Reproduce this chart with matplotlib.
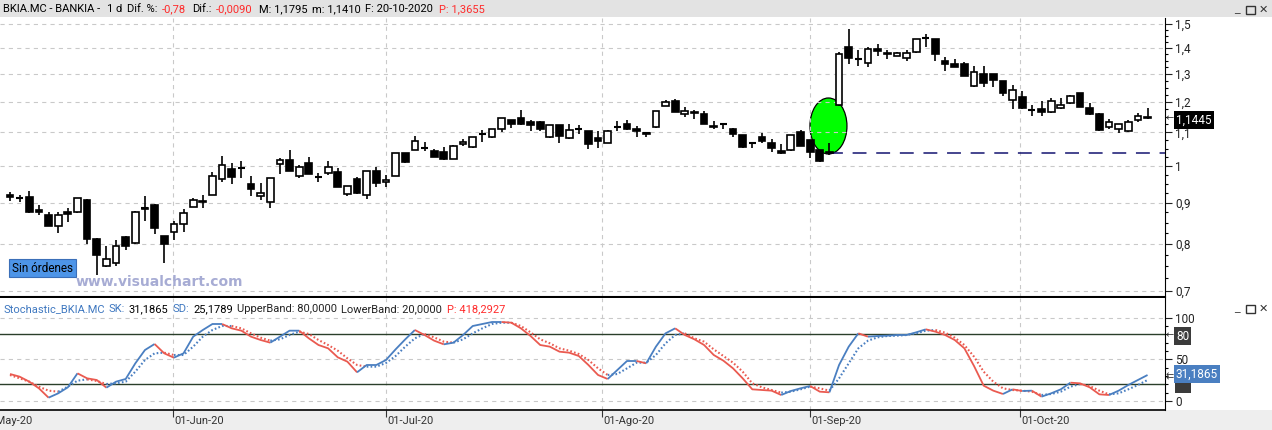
import matplotlib
matplotlib.use('Agg')
import matplotlib.pyplot as plt
import numpy as np
from matplotlib.patches import Ellipse, Rectangle
import matplotlib.transforms as mtransforms
from matplotlib.ticker import FixedLocator, NullFormatter, FixedFormatter

plt.rcParams['font.family'] = ['Roboto', 'DejaVu Sans']
plt.rcParams['lines.scale_dashes'] = False

# ---------------- data ----------------
opens = [0.921, 0.911, 0.914, 0.882, 0.869, 0.843, 0.877, 0.875, 0.907, 0.812,
         0.752, 0.757, 0.816, 0.802, 0.885, 0.894, 0.818, 0.827, 0.846, 0.890,
         0.904, 0.921, 0.962, 0.991, 0.993, 0.949, 0.917, 0.901, 1.004, 1.016,
         0.971, 1.007, 0.967, 0.980, 0.983, 0.922, 0.962, 0.920, 0.985, 0.954,
         0.971, 1.036, 1.046, 1.053, 1.044, 1.039, 1.019, 1.063, 1.056, 1.094,
         1.086, 1.109, 1.139, 1.147, 1.133, 1.132, 1.086, 1.122, 1.081, 1.109,
         1.104, 1.081, 1.068, 1.118, 1.128, 1.110, 1.098, 1.118, 1.186, 1.203,
         1.158, 1.167, 1.158, 1.121, 1.126, 1.109, 1.091, 1.068, 1.084, 1.066,
         1.043, 1.045, 1.100, 1.076, 1.046, 1.040, 1.189, 1.402, 1.355, 1.339,
         1.394, 1.379, 1.369, 1.359, 1.384, 1.439, 1.436, 1.348, 1.337, 1.337,
         1.256, 1.299, 1.299, 1.273, 1.206, 1.216, 1.172, 1.175, 1.165, 1.178,
         1.195, 1.229, 1.180, 1.159, 1.116, 1.109, 1.105, 1.138, 1.150]
highs = [0.927, 0.920, 0.930, 0.894, 0.877, 0.876, 0.885, 0.912, 0.909, 0.813,
         0.795, 0.809, 0.818, 0.878, 0.917, 0.896, 0.818, 0.854, 0.883, 0.911,
         0.920, 0.981, 1.028, 1.007, 1.014, 0.971, 0.951, 0.966, 1.021, 1.046,
         1.002, 1.026, 0.980, 1.014, 0.993, 0.945, 0.967, 0.986, 0.995, 0.974,
         1.037, 1.037, 1.088, 1.069, 1.048, 1.054, 1.060, 1.079, 1.085, 1.107,
         1.111, 1.146, 1.140, 1.172, 1.139, 1.136, 1.123, 1.123, 1.128, 1.122,
         1.105, 1.104, 1.106, 1.137, 1.139, 1.120, 1.102, 1.170, 1.206, 1.210,
         1.181, 1.172, 1.169, 1.136, 1.127, 1.115, 1.092, 1.069, 1.097, 1.079,
         1.063, 1.092, 1.107, 1.077, 1.046, 1.066, 1.383, 1.477, 1.392, 1.405,
         1.415, 1.392, 1.385, 1.392, 1.437, 1.457, 1.437, 1.362, 1.355, 1.344,
         1.331, 1.331, 1.300, 1.274, 1.259, 1.238, 1.189, 1.203, 1.214, 1.214,
         1.223, 1.230, 1.195, 1.162, 1.143, 1.126, 1.139, 1.161, 1.1795]
lows = [0.903, 0.902, 0.874, 0.869, 0.842, 0.826, 0.851, 0.874, 0.800, 0.731,
        0.748, 0.750, 0.785, 0.800, 0.855, 0.822, 0.758, 0.810, 0.828, 0.889,
        0.885, 0.920, 0.955, 0.948, 0.965, 0.917, 0.907, 0.885, 0.977, 0.986,
        0.965, 0.976, 0.955, 0.974, 0.940, 0.917, 0.923, 0.909, 0.940, 0.942,
        0.970, 1.009, 1.045, 1.044, 1.025, 1.016, 1.018, 1.059, 1.053, 1.069,
        1.083, 1.100, 1.113, 1.123, 1.105, 1.105, 1.083, 1.066, 1.080, 1.094,
        1.049, 1.051, 1.066, 1.105, 1.108, 1.086, 1.086, 1.115, 1.185, 1.166,
        1.150, 1.141, 1.127, 1.110, 1.109, 1.086, 1.051, 1.051, 1.068, 1.041,
        1.035, 1.044, 1.058, 1.023, 1.012, 1.031, 1.186, 1.336, 1.331, 1.327,
        1.369, 1.357, 1.368, 1.349, 1.381, 1.402, 1.348, 1.309, 1.324, 1.292,
        1.253, 1.253, 1.253, 1.221, 1.176, 1.177, 1.153, 1.153, 1.164, 1.177,
        1.194, 1.183, 1.157, 1.105, 1.110, 1.097, 1.100, 1.132, 1.141]
closes = [0.914, 0.911, 0.875, 0.877, 0.843, 0.869, 0.871, 0.911, 0.811, 0.776,
          0.766, 0.795, 0.796, 0.876, 0.883, 0.838, 0.799, 0.846, 0.873, 0.908,
          0.901, 0.971, 1.002, 0.967, 0.993, 0.935, 0.926, 0.965, 1.016, 0.986,
          0.995, 0.976, 0.967, 0.997, 0.942, 0.944, 0.924, 0.985, 0.953, 0.960,
          1.036, 1.012, 1.073, 1.053, 1.026, 1.019, 1.059, 1.069, 1.084, 1.094,
          1.110, 1.145, 1.128, 1.128, 1.122, 1.110, 1.122, 1.089, 1.107, 1.109,
          1.063, 1.074, 1.105, 1.118, 1.110, 1.104, 1.096, 1.169, 1.198, 1.167,
          1.169, 1.161, 1.128, 1.118, 1.126, 1.096, 1.056, 1.066, 1.074, 1.053,
          1.036, 1.091, 1.059, 1.041, 1.014, 1.036, 1.375, 1.359, 1.355, 1.394,
          1.389, 1.374, 1.379, 1.379, 1.436, 1.439, 1.374, 1.336, 1.327, 1.293,
          1.305, 1.265, 1.279, 1.231, 1.241, 1.178, 1.172, 1.167, 1.203, 1.189,
          1.220, 1.184, 1.159, 1.107, 1.132, 1.125, 1.132, 1.1535, 1.1445]

sk = [32.4, 29.2, 23.2, 15.2, 4.0, 9.2, 16.4, 33.2, 27.2, 25.2,
      16.0, 23.2, 26.4, 45.2, 61.2, 68.4, 57.2, 52.0, 57.2, 77.2,
      85.2, 92.4, 92.4, 87.2, 84.4, 77.2, 73.2, 70.0, 77.2, 84.4,
      84.4, 75.2, 67.2, 63.2, 52.4, 47.2, 34.4, 43.2, 43.2, 49.2,
      62.0, 74.0, 85.2, 79.2, 72.4, 68.0, 70.0, 79.2, 90.0, 92.4,
      94.8, 94.8, 94.0, 87.2, 78.0, 67.2, 65.2, 59.2, 58.0, 54.0,
      43.2, 31.2, 26.4, 37.2, 48.0, 48.0, 45.2, 65.2, 81.2, 87.2,
      79.2, 74.0, 67.2, 55.2, 48.4, 39.2, 27.2, 14.0, 13.2, 12.4,
      7.2, 12.0, 15.2, 18.0, 11.2, 10.4, 43.2, 65.2, 81.2, 77.2,
      78.0, 78.4, 79.2, 79.2, 82.4, 86.0, 83.2, 79.2, 73.2, 63.2,
      42.0, 18.4, 12.4, 8.4, 14.0, 12.0, 12.4, 5.2, 9.2, 14.0,
      22.0, 21.2, 16.4, 8.0, 7.2, 12.4, 19.2, 25.2, 31.19]
sd = [31.2, 27.2, 23.2, 17.2, 12.4, 11.2, 17.2, 24.4, 26.0, 24.0,
      20.4, 21.2, 23.2, 35.2, 49.2, 57.2, 58.0, 55.2, 55.2, 65.2,
      77.2, 85.2, 90.0, 90.0, 87.2, 81.2, 76.0, 72.4, 74.0, 79.2,
      83.2, 80.4, 73.2, 67.2, 60.4, 51.2, 43.2, 41.2, 41.2, 45.6,
      54.0, 65.2, 75.2, 80.4, 76.4, 71.2, 70.0, 74.0, 81.2, 87.2,
      92.4, 94.0, 94.0, 90.0, 82.4, 74.0, 69.2, 63.2, 60.4, 56.4,
      49.2, 39.2, 31.2, 32.4, 39.2, 46.0, 46.0, 55.2, 69.2, 79.2,
      81.2, 75.2, 71.2, 62.0, 54.0, 46.0, 35.2, 21.2, 16.4, 13.2,
      10.0, 11.2, 14.0, 17.2, 15.2, 12.4, 27.2, 45.2, 63.2, 72.4,
      76.4, 78.0, 78.4, 79.2, 81.2, 84.4, 85.2, 82.0, 76.0, 67.2,
      53.2, 35.2, 23.2, 15.2, 13.2, 12.4, 11.2, 7.2, 8.4, 11.2,
      17.2, 20.4, 18.0, 12.4, 8.0, 9.2, 14.0, 19.2, 25.18]

month_labels = ['01-May-20', '01-Jun-20', '01-Jul-20', '01-Ago-20', '01-Sep-20', '01-Oct-20']
month_pos = [-3.2, 16.9, 38.97, 61.4, 83.0, 104.8]

price_ticks = [0.7, 0.8, 0.9, 1.0, 1.1, 1.2, 1.3, 1.4, 1.5]
price_tick_labels = ['0,7', '0,8', '0,9', '1', '1,1', '1,2', '1,3', '1,4', '1,5']
support_level = 1.036
last_price = 1.1445

O = np.array(opens); Hh = np.array(highs); L = np.array(lows); C = np.array(closes)
n = len(O)
x = np.arange(n)

# ---------------- figure ----------------
W, H = 1272, 430
fig = plt.figure(figsize=(W / 100, H / 100), dpi=100)
fig.patch.set_facecolor('white')
renderer = fig.canvas.get_renderer()

def fx(px): return px / W
def fy(py): return 1 - py / H

fig.add_artist(Rectangle((0, fy(17)), 1, 17 / H, transform=fig.transFigure,
                         facecolor='#e3e3e3', edgecolor='none', zorder=0))
fig.add_artist(Rectangle((0, 0), 1, 20 / H, transform=fig.transFigure,
                         facecolor='#eeeeee', edgecolor='none', zorder=0))

XL = (-1.037, 119.81)
grid_c = '#c9c9c9'
grid_ls = (0, (3, 3))

# ---- price panel ----
ax = fig.add_axes([0, fy(297), fx(1165), (297 - 18) / H])
ax.set_facecolor('white')
ax.set_yscale('log')
ax.set_ylim(0.6874, 1.5245)
ax.set_xlim(*XL)
for s in ['left', 'top']:
    ax.spines[s].set_visible(False)
ax.spines['right'].set_color('black')
ax.spines['bottom'].set_color('black')
ax.spines['bottom'].set_linewidth(1.5)
ax.yaxis.tick_right()
ax.yaxis.set_major_locator(FixedLocator(price_ticks))
ax.yaxis.set_major_formatter(FixedFormatter(price_tick_labels))
ax.yaxis.set_minor_locator(FixedLocator(list(np.arange(0.7, 1.52, 0.025))))
ax.yaxis.set_minor_formatter(NullFormatter())
ax.tick_params(axis='y', which='major', length=5, width=0.8, pad=2.5,
               labelsize=8.5, colors='#222222')
ax.tick_params(axis='y', which='minor', length=2.5, width=0.8)
ax.set_xticks([])
for t in price_ticks:
    ax.axhline(t, color=grid_c, lw=0.8, ls=grid_ls, zorder=1)
for p in month_pos:
    ax.axvline(p, color=grid_c, lw=0.8, ls=grid_ls, zorder=1)

# green ellipse highlight (size in inches around a data anchor)
trans = fig.dpi_scale_trans + mtransforms.ScaledTranslation(84.9, 1.12, ax.transData)
ell = Ellipse((0, 0), 0.37, 0.56, transform=trans, facecolor='#00ff00',
              edgecolor='black', lw=0.9, zorder=0.8)
ax.add_patch(ell)

# candles
up = C >= O
ax.vlines(x, L, Hh, color='black', lw=1.2, zorder=3)
bottoms = np.minimum(O, C)
heights = np.abs(C - O)
ax.bar(x, heights, bottom=bottoms, width=0.7,
       color=np.where(up, 'white', 'black'), edgecolor='black', linewidth=1.2, zorder=4)
doji = heights < 0.0025
ax.hlines(O[doji], x[doji] - 0.36, x[doji] + 0.36, color='black', lw=1.5, zorder=5)

# support dashed line
ax.hlines(support_level, 85, XL[1], colors='#141470', linestyles=(0, (10, 7)), lw=1.1, zorder=2)

# ---- stochastic panel ----
ax2 = fig.add_axes([0, fy(410), fx(1165), (410 - 298) / H])
ax2.set_facecolor('white')
ax2.set_xlim(*XL)
ax2.set_ylim(-10.8, 123.6)
for s in ['left', 'top']:
    ax2.spines[s].set_visible(False)
ax2.spines['right'].set_color('black')
ax2.spines['bottom'].set_color('black')
ax2.spines['bottom'].set_linewidth(1.2)
ax2.yaxis.tick_right()
ax2.set_yticks([0, 50, 100])
ax2.set_yticklabels(['0', '50', '100'])
ax2.yaxis.set_minor_locator(FixedLocator(list(range(0, 101, 10))))
ax2.tick_params(axis='y', which='major', length=5, width=0.8, pad=2.5,
                labelsize=8.5, colors='#222222')
ax2.tick_params(axis='y', which='minor', length=2.5, width=0.8)
ax2.set_xticks(month_pos[1:])
ax2.set_xticklabels([])
ax2.tick_params(axis='x', length=5, width=0.8, direction='out', colors='#333333')
for t in [0, 50, 100]:
    ax2.axhline(t, color=grid_c, lw=0.8, ls=grid_ls, zorder=1)
for p in month_pos:
    ax2.axvline(p, color=grid_c, lw=0.8, ls=grid_ls, zorder=1)
ax2.axhline(80, color='#2a3f2a', lw=1.0, zorder=2)
ax2.axhline(20, color='#2a3f2a', lw=1.0, zorder=2)

BLUE = '#4a7fc1'
RED = '#ea5a50'

def colored(axx, xs, ys, ls, lw):
    ys = np.asarray(ys)
    cols = [BLUE if ys[i + 1] >= ys[i] else RED for i in range(len(ys) - 1)]
    start = 0
    for i in range(1, len(cols) + 1):
        if i == len(cols) or cols[i] != cols[start]:
            axx.plot(xs[start:i + 1], ys[start:i + 1], color=cols[start], ls=ls, lw=lw,
                     zorder=3, solid_capstyle='butt')
            start = i

colored(ax2, x, sd, (0, (1.2, 1.6)), 1.5)
colored(ax2, x, sk, '-', 1.3)

# month labels
btr = mtransforms.blended_transform_factory(ax2.transData, fig.transFigure)
lab_tr = btr + mtransforms.ScaledTranslation(1.5 / 100, 0, fig.dpi_scale_trans)
for p, lab in zip(month_pos, month_labels):
    fig.text(p, fy(421), lab, transform=lab_tr,
             ha='left', va='center', fontsize=8, color='#333333')

# ---- header texts (laid out left to right, never overlapping) ----
def header(pieces, py, size, gap):
    prev_end = -10
    for px, s, c in pieces:
        xs = max(px, prev_end + gap)
        t = fig.text(fx(xs), fy(py), s, color=c, fontsize=size, ha='left', va='center')
        bb = t.get_window_extent(renderer)
        prev_end = bb.x1

RED_T = '#ff2a2a'
hdr = [(3, 'BKIA.MC - BANKIA -', 'black'), (107, '1 d', 'black'), (126, 'Dif. %:', 'black'),
       (162, '-0,78', RED_T), (192, 'Dif.:', 'black'), (216, '-0,0090', RED_T),
       (259, 'M: 1,1795', 'black'), (312, 'm: 1,1410', 'black'), (357, 'F: 20-10-2020', 'black'),
       (439, 'P: 1,3655', RED_T)]
header(hdr, 9.5, 8, 4.5)

SB = '#3f78c0'
hdr2 = [(3, 'Stochastic_BKIA.MC', SB), (108, 'SK:', SB), (124, '31,1865', 'black'),
        (165, 'SD:', SB), (182, '25,1789', 'black'), (234, 'UpperBand: 80,0000', '#222222'),
        (341, 'LowerBand: 20,0000', '#222222'), (447, 'P: 418,2927', RED_T)]
header(hdr2, 309, 8, 4)

# window buttons
for (bx, by) in [(1233, 3), (1233, 302)]:
    fig.text(fx(bx + 1), fy(by + 6), '_', fontsize=8, color='#333', va='center', ha='left',
             family='DejaVu Sans')
    fig.add_artist(Rectangle((fx(bx + 13), fy(by + 11)), 9 / W, 8 / H, transform=fig.transFigure,
                             facecolor='none', edgecolor='#333', lw=1.0))
    fig.text(fx(bx + 26), fy(by + 7), '✕', fontsize=8, color='#333', va='center', ha='left',
             family='DejaVu Sans')

# right-side value labels
def valbox(px, py, s, fc, size=8.5):
    fig.text(fx(px), fy(py), s, color='white', fontsize=size, ha='left', va='center',
             bbox=dict(boxstyle='square,pad=0.18', fc=fc, ec='none'), zorder=10)

def arrow(py):
    fig.text(fx(1166), fy(py), '←', fontsize=7, color='#333333', ha='left', va='center',
             family='DejaVu Sans', zorder=11)

valbox(1176, 120, '1,1445', 'black')
arrow(118)
valbox(1176, 336, '80', '#3b3b3b')
arrow(335)
# lower-band marker box, mostly hidden behind the SK value box
fig.add_artist(Rectangle((fx(1175), fy(393)), 16 / W, 13 / H, transform=fig.transFigure,
                         facecolor='#3b3b3b', edgecolor='none', zorder=9))
valbox(1176, 374, '31,1865', '#4a7fc1')
fig.text(fx(1166), fy(376), '⇇', fontsize=7, color='#333333', ha='left', va='center',
         family='DejaVu Sans', zorder=11)

# annotations in chart
fig.text(fx(12), fy(268), 'Sin órdenes', fontsize=8.5, color='black', ha='left', va='center',
         bbox=dict(boxstyle='square,pad=0.25', fc='#4d95e8', ec='#3b6fb8', lw=0.8))
fig.text(fx(76), fy(282), 'www.visualchart.com', fontsize=10, fontweight='bold',
         family='DejaVu Sans', color='#a7acd4', ha='left', va='center')

fig.savefig('out.png', dpi=100, facecolor=fig.get_facecolor())
